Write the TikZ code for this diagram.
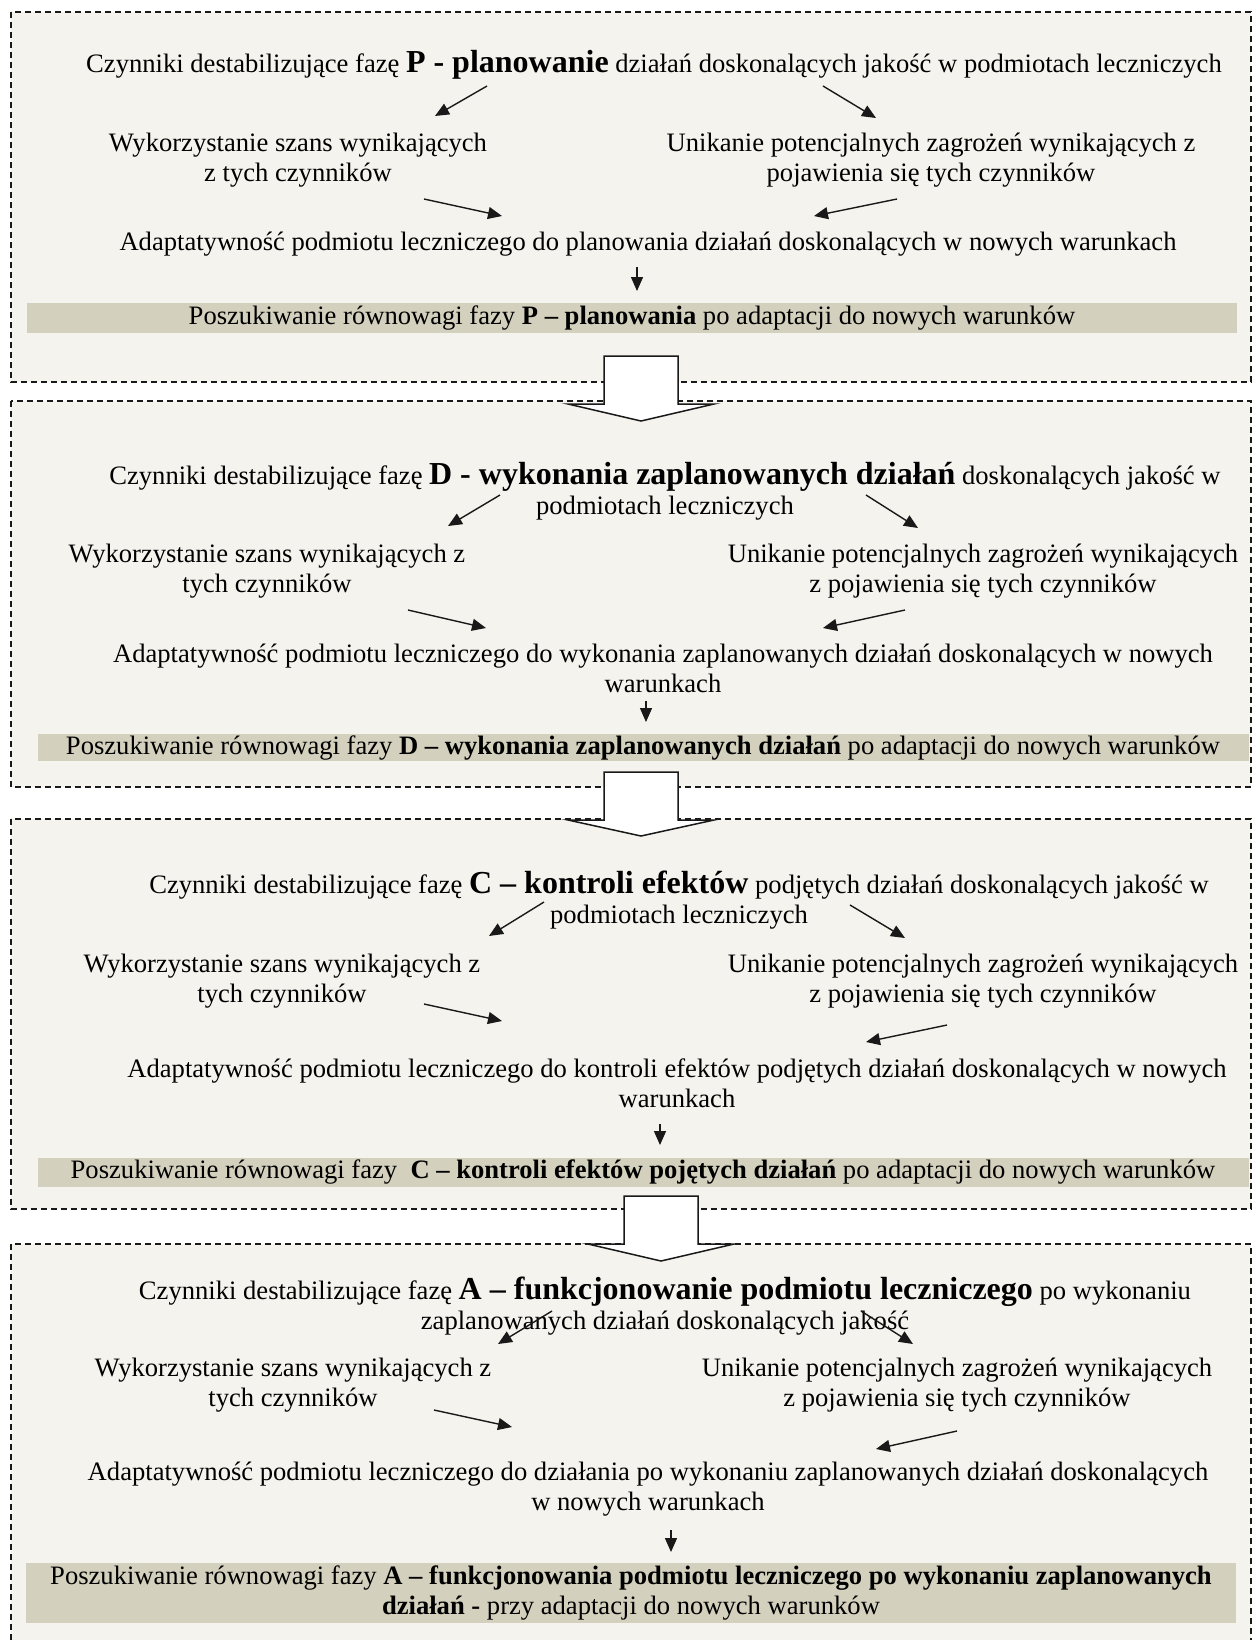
\documentclass[tikz,border=0pt]{standalone}
\usepackage{fontspec}
\setmainfont{Liberation Serif}
\usetikzlibrary{arrows.meta}
\definecolor{boxbg}{RGB}{244,243,237}
\definecolor{bandbg}{RGB}{211,208,189}
\tikzset{
  panel/.style={fill=boxbg},
  panelborder/.style={draw=black!90, line width=0.8pt, dash pattern=on 3pt off 2pt},
  band/.style={fill=bandbg},
  txt/.style={font=\fontsize{13.3}{15}\selectfont, align=center, inner sep=0pt},
  arr/.style={draw=black!90, line width=0.7pt, -{Triangle[length=7pt,width=6pt]}},
  blockarrow/.style={draw=black!90, fill=white, line width=0.75pt, line join=miter},
}
\newcommand{\bigb}[1]{{\fontsize{16}{15}\selectfont\bfseries #1}}
\begin{document}
\begin{tikzpicture}[x=0.5pt,y=-0.5pt]
\useasboundingbox (0,0) rectangle (1254,1640);
\fill[white] (0,0) rectangle (1254,1640);

% panels
\fill[panel] (11,12) rectangle (1251,382);
\draw[panelborder] (11,12) rectangle (1251,382);
\fill[panel] (11,401) rectangle (1251,787);
\draw[panelborder] (11,401) rectangle (1251,787);
\fill[panel] (11,819) rectangle (1251,1209);
\draw[panelborder] (11,819) rectangle (1251,1209);
\fill[panel] (11,1244) rectangle (1251,1640);
\draw[panelborder] (11,1640) -- (11,1244) -- (1251,1244) -- (1251,1640);

% bands
\fill[band] (27,303) rectangle (1237,333);
\fill[band] (38,734) rectangle (1249,761);
\fill[band] (38,1158) rectangle (1249,1187);
\fill[band] (26,1563) rectangle (1236,1623);

% block arrows
\draw[blockarrow] (604,356) -- (678,356) -- (678,404) -- (714,404) -- (641,421) -- (568,404) -- (604,404) -- cycle;
\draw[blockarrow] (604,772) -- (678,772) -- (678,820) -- (714,820) -- (641,836) -- (568,820) -- (604,820) -- cycle;
\draw[blockarrow] (624,1196) -- (698,1196) -- (698,1244) -- (734,1244) -- (661,1261) -- (588,1244) -- (624,1244) -- cycle;

% ---------- panel 1 ----------
\node[txt] (t1) at (654,65) {Czynniki destabilizujące fazę \bigb{P - planowanie} działań doskonalących jakość w podmiotach leczniczych};
\node[txt] (l1) at (298,160) {Wykorzystanie szans wynikających\\z tych czynników};
\node[txt] (r1) at (931,160) {Unikanie potencjalnych zagrożeń wynikających z\\pojawienia się tych czynników};
\node[txt] (a1) at (648,244) {Adaptatywność podmiotu leczniczego do planowania działań doskonalących w nowych warunkach};
\node[txt] (b1) at (632,318) {Poszukiwanie równowagi fazy \textbf{P – planowania} po adaptacji do nowych warunków};
\coordinate (p1a) at (487,86);  \coordinate (p1b) at (435,116);
\coordinate (p1c) at (823,86);  \coordinate (p1d) at (876,118);
\coordinate (p1e) at (424,199); \coordinate (p1f) at (502,216);
\coordinate (p1g) at (897,199); \coordinate (p1h) at (814,216);
\coordinate (p1i) at (637,267); \coordinate (p1j) at (637,291);
\draw[arr] (p1a) -- (p1b);
\draw[arr] (p1c) -- (p1d);
\draw[arr] (p1e) -- (p1f);
\draw[arr] (p1g) -- (p1h);
\draw[arr] (p1i) -- (p1j);

% ---------- panel 2 ----------
\node[txt] (t2) at (665,491) {Czynniki destabilizujące fazę \bigb{D - wykonania zaplanowanych działań} doskonalących jakość w\\podmiotach leczniczych};
\node[txt] (l2) at (267,571) {Wykorzystanie szans wynikających z\\tych czynników};
\node[txt] (r2) at (983,571) {Unikanie potencjalnych zagrożeń wynikających\\z pojawienia się tych czynników};
\node[txt] (a2) at (663,668) {Adaptatywność podmiotu leczniczego do wykonania zaplanowanych działań doskonalących w nowych\\warunkach};
\node[txt] (b2) at (643,748) {Poszukiwanie równowagi fazy \textbf{D – wykonania zaplanowanych działań} po adaptacji do nowych warunków};
\coordinate (p2a) at (500,495); \coordinate (p2b) at (448,526);
\coordinate (p2c) at (866,495); \coordinate (p2d) at (918,528);
\coordinate (p2e) at (408,610); \coordinate (p2f) at (486,628);
\coordinate (p2g) at (905,610); \coordinate (p2h) at (823,628);
\coordinate (p2i) at (646,701); \coordinate (p2j) at (646,722);
\draw[arr] (p2a) -- (p2b);
\draw[arr] (p2c) -- (p2d);
\draw[arr] (p2e) -- (p2f);
\draw[arr] (p2g) -- (p2h);
\draw[arr] (p2i) -- (p2j);

% ---------- panel 3 ----------
\node[txt] (t3) at (679,900) {Czynniki destabilizujące fazę \bigb{C – kontroli efektów} podjętych działań doskonalących jakość w\\podmiotach leczniczych};
\node[txt] (l3) at (282,981) {Wykorzystanie szans wynikających z\\tych czynników};
\node[txt] (r3) at (983,981) {Unikanie potencjalnych zagrożeń wynikających\\z pojawienia się tych czynników};
\node[txt] (a3) at (677,1083) {Adaptatywność podmiotu leczniczego do kontroli efektów podjętych działań doskonalących w nowych\\warunkach};
\node[txt] (b3) at (643,1172) {Poszukiwanie równowagi fazy\ \ \textbf{C – kontroli efektów pojętych działań} po adaptacji do nowych warunków};
\coordinate (p3a) at (544,902); \coordinate (p3b) at (489,936);
\coordinate (p3c) at (850,905); \coordinate (p3d) at (905,938);
\coordinate (p3e) at (424,1004); \coordinate (p3f) at (502,1021);
\coordinate (p3g) at (947,1025); \coordinate (p3h) at (866,1042);
\coordinate (p3i) at (660,1124); \coordinate (p3j) at (660,1145);
\draw[arr] (p3a) -- (p3b);
\draw[arr] (p3c) -- (p3d);
\draw[arr] (p3e) -- (p3f);
\draw[arr] (p3g) -- (p3h);
\draw[arr] (p3i) -- (p3j);

% ---------- panel 4 ----------
\node[txt] (t4) at (665,1306) {Czynniki destabilizujące fazę \bigb{A – funkcjonowanie podmiotu leczniczego} po wykonaniu\\zaplanowanych działań doskonalących jakość};
\node[txt] (l4) at (293,1385) {Wykorzystanie szans wynikających z\\tych czynników};
\node[txt] (r4) at (957,1385) {Unikanie potencjalnych zagrożeń wynikających\\z pojawienia się tych czynników};
\node[txt] (a4) at (648,1489) {Adaptatywność podmiotu leczniczego do działania po wykonaniu zaplanowanych działań doskonalących\\w nowych warunkach};
\node[txt] (b4) at (631,1593) {Poszukiwanie równowagi fazy \textbf{A – funkcjonowania podmiotu leczniczego po wykonaniu zaplanowanych}\\\textbf{działań -} przy adaptacji do nowych warunków};
\coordinate (p4a) at (552,1311); \coordinate (p4b) at (498,1344);
\coordinate (p4c) at (861,1311); \coordinate (p4d) at (913,1344);
\coordinate (p4e) at (434,1410); \coordinate (p4f) at (512,1427);
\coordinate (p4g) at (957,1431); \coordinate (p4h) at (876,1449);
\coordinate (p4i) at (671,1530); \coordinate (p4j) at (671,1552);
\draw[arr] (p4a) -- (p4b);
\draw[arr] (p4c) -- (p4d);
\draw[arr] (p4e) -- (p4f);
\draw[arr] (p4g) -- (p4h);
\draw[arr] (p4i) -- (p4j);
\end{tikzpicture}
\end{document}
